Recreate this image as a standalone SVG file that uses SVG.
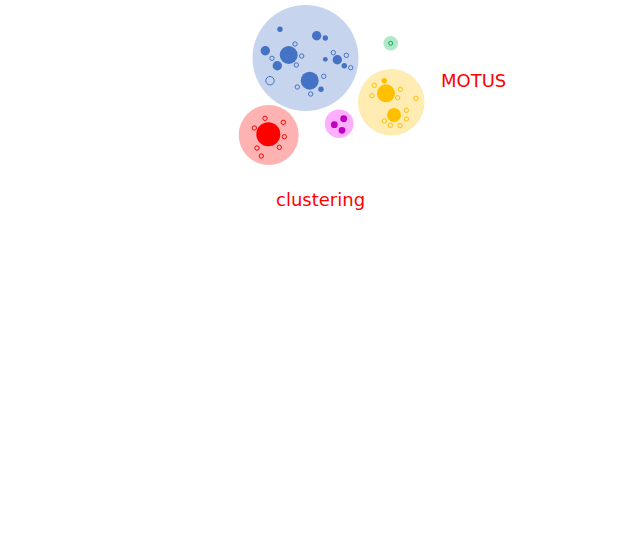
<svg xmlns="http://www.w3.org/2000/svg" width="625" height="542" viewBox="0 0 625 542">
<style>
.bbg{fill:#4472c4;fill-opacity:0.3}
.bf{fill:#4472c4}
.bo{fill:none;stroke:#4472c4;stroke-width:1}
.rbg{fill:#ff0000;fill-opacity:0.3}
.rf{fill:#ff0000}
.ro{fill:none;stroke:#ff0000;stroke-width:1}
.pbg{fill:#ff33ff;fill-opacity:0.4}
.pf{fill:#c000c0}
.ybg{fill:#ffc000;fill-opacity:0.3}
.yf{fill:#ffc000}
.yo{fill:none;stroke:#ffc000;stroke-width:1}
.gbg{fill:#00b050;fill-opacity:0.3}
.go{fill:none;stroke:#00b050;stroke-width:1}
.lbl{font-family:"DejaVu Sans",sans-serif;font-size:18px;fill:#ff0000}
</style>
<g id="blue">
<circle class="bbg" cx="305.5" cy="58" r="53"/>
<circle class="bf" cx="280" cy="29.3" r="2.7"/>
<circle class="bf" cx="316.7" cy="35.7" r="4.7"/>
<circle class="bf" cx="325.3" cy="38" r="2.7"/>
<circle class="bf" cx="265.3" cy="50.7" r="4.7"/>
<circle class="bf" cx="288.7" cy="55" r="9"/>
<circle class="bo" cx="295" cy="44" r="2.2"/>
<circle class="bo" cx="272" cy="58.3" r="2.2"/>
<circle class="bo" cx="301.7" cy="56" r="2.2"/>
<circle class="bo" cx="296.3" cy="65" r="2.2"/>
<circle class="bf" cx="277.3" cy="65.7" r="4.7"/>
<circle class="bo" cx="333.3" cy="52.7" r="2.2"/>
<circle class="bo" cx="346.3" cy="55.3" r="2.2"/>
<circle class="bf" cx="337.3" cy="59.7" r="4.7"/>
<circle class="bf" cx="325.3" cy="59.3" r="2.4"/>
<circle class="bf" cx="344.3" cy="65.7" r="2.7"/>
<circle class="bo" cx="350.7" cy="67.7" r="2.2"/>
<circle class="bo" cx="270" cy="80.7" r="4.2"/>
<circle class="bf" cx="309.7" cy="80.7" r="9"/>
<circle class="bo" cx="323.7" cy="76.3" r="2.2"/>
<circle class="bo" cx="297.3" cy="87" r="2.2"/>
<circle class="bf" cx="321" cy="89.3" r="2.7"/>
<circle class="bo" cx="310.7" cy="94" r="2.2"/>
</g>
<g id="red">
<circle class="rbg" cx="268.7" cy="135" r="30"/>
<circle class="rf" cx="268.3" cy="134.3" r="12"/>
<circle class="ro" cx="265" cy="118.3" r="2.2"/>
<circle class="ro" cx="283.3" cy="122.3" r="2.2"/>
<circle class="ro" cx="254.3" cy="128" r="2.2"/>
<circle class="ro" cx="284.3" cy="136.7" r="2.2"/>
<circle class="ro" cx="257" cy="148" r="2.2"/>
<circle class="ro" cx="279.3" cy="147.3" r="2.2"/>
<circle class="ro" cx="261.3" cy="156" r="2.2"/>
</g>
<g id="pink">
<circle class="pbg" cx="339.2" cy="123.7" r="14.3"/>
<circle class="pf" cx="343.7" cy="118.7" r="3.4"/>
<circle class="pf" cx="334.3" cy="124.7" r="3.4"/>
<circle class="pf" cx="342" cy="130.3" r="3.4"/>
</g>
<g id="green">
<circle class="gbg" cx="390.7" cy="43.3" r="7.3"/>
<circle class="go" cx="390.7" cy="43.3" r="2"/>
</g>
<g id="yellow">
<circle class="ybg" cx="391.3" cy="102.3" r="33.3"/>
<circle class="yf" cx="386" cy="93.3" r="9"/>
<circle class="yf" cx="384.3" cy="80.7" r="2.7"/>
<circle class="yo" cx="374.3" cy="85.3" r="2.2"/>
<circle class="yo" cx="372" cy="95.7" r="2.2"/>
<circle class="yo" cx="400.3" cy="89.3" r="2.2"/>
<circle class="yo" cx="397.7" cy="97.7" r="2.2"/>
<circle class="yo" cx="416" cy="98.3" r="2.2"/>
<circle class="yf" cx="394" cy="115" r="7"/>
<circle class="yo" cx="406.3" cy="110.3" r="2.2"/>
<circle class="yo" cx="406.3" cy="119" r="2.2"/>
<circle class="yo" cx="384.3" cy="121" r="2.2"/>
<circle class="yo" cx="390.3" cy="125.3" r="2.2"/>
<circle class="yo" cx="400" cy="125.7" r="2.2"/>
</g>
<g id="connectors"></g>
<text class="lbl" x="441" y="87">MOTUS</text>
<text class="lbl" x="276" y="206">clustering</text>
</svg>
